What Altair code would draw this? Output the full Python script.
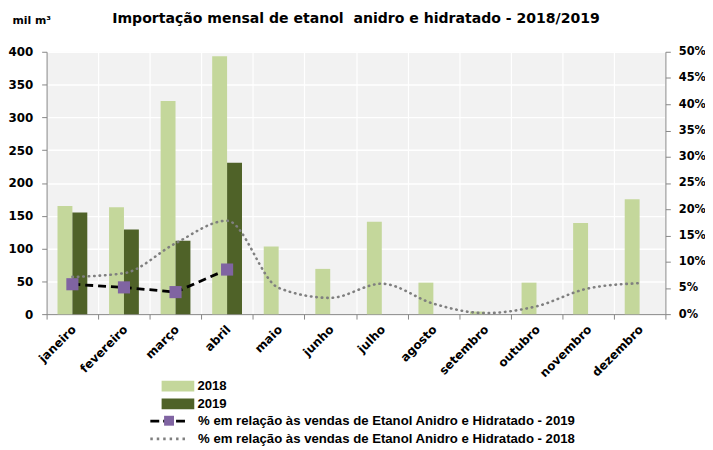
import altair as alt
import pandas as pd

months = ["janeiro", "fevereiro", "março", "abril", "maio", "junho", "julho",
          "agosto", "setembro", "outubro", "novembro", "dezembro"]
imp_2018 = [165, 163, 325, 393, 103, 69, 141, 48, 4, 48, 139, 175]
imp_2019 = [155, 129, 112, 231]
pct_2018 = [0.071, 0.078, 0.135, 0.178, 0.050, 0.031, 0.058, 0.020, 0.002, 0.015, 0.049, 0.059]
pct_2019 = [0.057, 0.051, 0.042, 0.085]

lbl18 = "% em relação às vendas de Etanol Anidro e Hidratado - 2018"
lbl19 = "% em relação às vendas de Etanol Anidro e Hidratado - 2019"
title_text = "Importação mensal de etanol\u00a0 anidro e hidratado - 2018/2019"

FONT = "DejaVu Sans"
LFONT = "Liberation Sans"

bars = pd.DataFrame(
    [{"mes": m, "ano": "2018", "v": v} for m, v in zip(months, imp_2018)]
    + [{"mes": m, "ano": "2019", "v": v} for m, v in zip(months, imp_2019)]
)
l18 = pd.DataFrame({"mes": months, "serie": lbl18, "p": pct_2018})
l19 = pd.DataFrame({"mes": months[:len(pct_2019)], "serie": lbl19, "p": pct_2019})

xenc = alt.X("mes:N", sort=months, title=None,
             scale=alt.Scale(paddingInner=0, paddingOuter=0),
             axis=alt.Axis(labelAngle=-45, labelAlign="right", labelBaseline="middle",
                           labelOffset=1, tickBand="extent", grid=True,
                           gridColor="white", gridWidth=1.2, domainColor="#868686",
                           tickColor="#868686", tickSize=5, labelFontSize=12,
                           labelFontWeight="bold", labelColor="#000", labelPadding=8))


def leg(y, **kw):
    base = dict(title=None, orient="none", legendX=117, legendY=y,
                symbolType="M-3.5,0H3.5", symbolSize=121, symbolStrokeWidth=2.7,
                labelFont=LFONT, labelFontSize=13.3, labelFontWeight="bold",
                labelOffset=22, labelLimit=0, labelColor="#000")
    base.update(kw)
    return alt.Legend(**base)


bar_layer = alt.Chart(bars).mark_bar().encode(
    x=xenc,
    xOffset=alt.XOffset("ano:N", scale=alt.Scale(paddingInner=0, paddingOuter=0.73)),
    y=alt.Y("v:Q", title="mil m³", scale=alt.Scale(domain=[0, 400]),
            axis=alt.Axis(orient="left", values=list(range(0, 401, 50)), grid=True,
                          gridColor="white", gridWidth=1.5, domainColor="#868686",
                          tickColor="#868686", tickSize=5, labelFontSize=12,
                          labelFontWeight="bold", labelColor="#000", labelPadding=9,
                          titleAngle=0, titleX=-35, titleY=-29, titleAlign="left",
                          titleBaseline="alphabetic", titleFontSize=11,
                          titleFontWeight="bold", titleColor="#000")),
    color=alt.Color("ano:N", scale=alt.Scale(domain=["2018", "2019"],
                                             range=["#c4d79b", "#4f6228"]),
                    legend=alt.Legend(title=None, orient="none", legendX=126, legendY=331,
                                      symbolType="M-3,-1H3V1H-3Z", symbolSize=121,
                                      symbolStrokeWidth=0, labelFont=LFONT, labelFontSize=13.3,
                                      labelFontWeight="bold", rowPadding=4, labelOffset=13,
                                      labelColor="#000")),
)

yp = alt.Y("p:Q", scale=alt.Scale(domain=[0, 0.5]),
           axis=alt.Axis(orient="right", format=".0%", values=[i / 100 for i in range(0, 51, 5)],
                         title=None, grid=False, domainColor="#868686",
                         tickColor="#868686", tickSize=5, labelFontSize=11.5,
                         labelFontWeight="bold", labelColor="#000", labelPadding=8))

line18 = alt.Chart(l18).mark_line(strokeWidth=2.6, strokeCap="round", interpolate="monotone",
                                  strokeDash=[0.5, 5]).encode(
    x=alt.X("mes:N", sort=months), y=yp,
    color=alt.Color("serie:N", scale=alt.Scale(domain=[lbl18], range=["#7f7f7f"]),
                    legend=leg(384, symbolDash=[2.5, 4])))
line19 = alt.Chart(l19).mark_line(strokeWidth=2.8, strokeDash=[8, 5]).encode(
    x=alt.X("mes:N", sort=months), y=yp,
    color=alt.Color("serie:N", scale=alt.Scale(domain=[lbl19], range=["#000000"]),
                    legend=leg(366, symbolDash=[9, 4])))
pt19 = alt.Chart(l19).mark_square(size=150, opacity=1).encode(
    x=alt.X("mes:N", sort=months), y=yp,
    fill=alt.Fill("serie:N", scale=alt.Scale(domain=[lbl19], range=["#8064a2"]),
                  legend=leg(366, symbolType="square", symbolSize=100, labelOpacity=0,
                             symbolStrokeWidth=0, labelOffset=23)))

right = alt.layer(line18, line19, pt19).resolve_scale(color="independent", fill="independent")

chart = alt.layer(bar_layer, right).resolve_scale(
    y="independent", color="independent", fill="independent"
).properties(
    width=625, height=265,
    padding={"left": 39, "top": 42, "right": 40, "bottom": 135},
    autosize=alt.AutoSizeParams(type="none"),
    view=alt.ViewBackground(fill="#f2f2f2", stroke=None),
    title=alt.Title(title_text, fontSize=14.2, fontWeight="bold", offset=-12,
                    anchor="middle", color="#000"),
).configure(font=FONT)

chart.save("out.html", embed_options={"renderer": "svg", "actions": False})
